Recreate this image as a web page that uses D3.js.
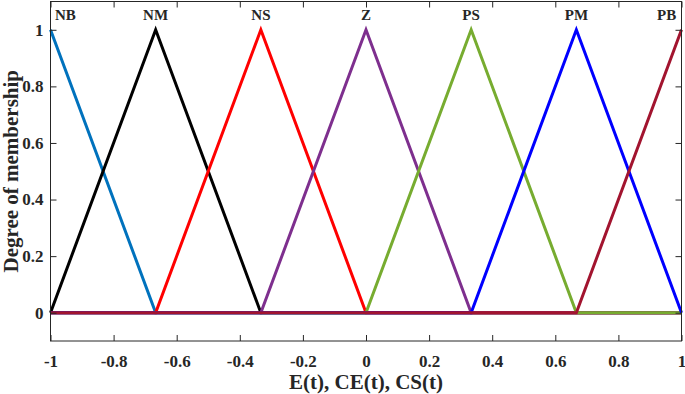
<!DOCTYPE html>
<html><head><meta charset="utf-8">
<script src="https://cdn.jsdelivr.net/npm/d3@7"></script>
<style>
html,body{margin:0;padding:0;background:#fff;}
svg{display:block;}
text{font-family:"Liberation Serif","Times New Roman",serif;font-weight:bold;fill:#262626;}
</style></head>
<body>
<script>
const setNames = ["NB","NM","NS","Z","PS","PM","PB"];
const mfLeft   = [-1.3333,-1,-0.6667,-0.3333,0,0.3333,0.6667];
const mfPeak   = [-1,-0.6667,-0.3333,0,0.3333,0.6667,1];
const mfRight  = [-0.6667,-0.3333,0,0.3333,0.6667,1,1.3333];
const labelX   = [-0.953,-0.667,-0.333,0,0.333,0.667,0.953];
const colors   = ["#0072BD","#000000","#FF0000","#7E2F8E","#77AC30","#0000FF","#A2142F"];
const xTicks = [-1,-0.8,-0.6,-0.4,-0.2,0,0.2,0.4,0.6,0.8,1];
const xTickLabels = ["-1","-0.8","-0.6","-0.4","-0.2","0","0.2","0.4","0.6","0.8","1"];
const yTicks = [0,0.2,0.4,0.6,0.8,1];
const yTickLabels = ["0","0.2","0.4","0.6","0.8","1"];
const xLabel = "E(t), CE(t), CS(t)";
const yLabel = "Degree of membership";

const W=685,H=394;
const L=50.5,R=681.5,T=1.5,B=341;
const svg=d3.select("body").append("svg").attr("width",W).attr("height",H);
const x=d3.scaleLinear().domain([-1,1]).range([L,R]);
const y=d3.scaleLinear().domain([-0.1,1.1]).range([B,T]);
const axisColor="#262626";

function trimf(v,a,b,c){ if(v<=a||v>=c) return 0; return v<=b?(v-a)/(b-a):(c-v)/(c-b); }

// lines
const line=d3.line().x(d=>x(d[0])).y(d=>y(d[1]));
setNames.forEach((n,i)=>{
  const bps=[-1,mfLeft[i],mfPeak[i],mfRight[i],1].filter(v=>v>=-1&&v<=1).sort((a,b)=>a-b);
  const pts=bps.map(v=>[v, v===mfPeak[i]?1:trimf(v,mfLeft[i],mfPeak[i],mfRight[i])]);
  svg.append("path").attr("d",line(pts)).attr("fill","none")
    .attr("stroke",colors[i]).attr("stroke-width",3).attr("stroke-linejoin","miter");
});

// box
svg.append("rect").attr("x",L).attr("y",T).attr("width",R-L).attr("height",B-T)
  .attr("fill","none").attr("stroke",axisColor).attr("stroke-width",1);

// axes
const xa=svg.append("g").attr("transform",`translate(0,${B})`)
  .call(d3.axisBottom(x).tickValues(xTicks).tickSizeInner(-6).tickSizeOuter(0).tickPadding(14)
   .tickFormat((d,i)=>xTickLabels[i]));
const xt=svg.append("g").attr("transform",`translate(0,${T})`)
  .call(d3.axisTop(x).tickValues(xTicks).tickSizeInner(-6).tickSizeOuter(0).tickFormat(""));
const ya=svg.append("g").attr("transform",`translate(${L},0)`)
  .call(d3.axisLeft(y).tickValues(yTicks).tickSizeInner(-6).tickSizeOuter(0).tickPadding(7)
   .tickFormat((d,i)=>yTickLabels[i]));
const yr=svg.append("g").attr("transform",`translate(${R},0)`)
  .call(d3.axisRight(y).tickValues(yTicks).tickSizeInner(-6).tickSizeOuter(0).tickFormat(""));
[xa,xt,ya,yr].forEach(a=>{
  a.select(".domain").remove();
  a.selectAll("line").attr("stroke",axisColor);
  a.selectAll("text").attr("font-size",17).attr("font-family","Liberation Serif").attr("font-weight","bold").attr("fill",axisColor);
});

// set labels
setNames.forEach((n,i)=>{
  svg.append("text").attr("x",x(labelX[i])).attr("y",20).attr("text-anchor","middle")
    .attr("font-size",15).attr("fill","#000").text(n);
});

svg.append("text").attr("x",(L+R)/2).attr("y",389).attr("text-anchor","middle")
  .attr("font-size",21).text(xLabel);
svg.append("text").attr("transform",`translate(18,${(T+B)/2}) rotate(-90)`).attr("text-anchor","middle")
  .attr("font-size",21).text(yLabel);
</script>
</body></html>
